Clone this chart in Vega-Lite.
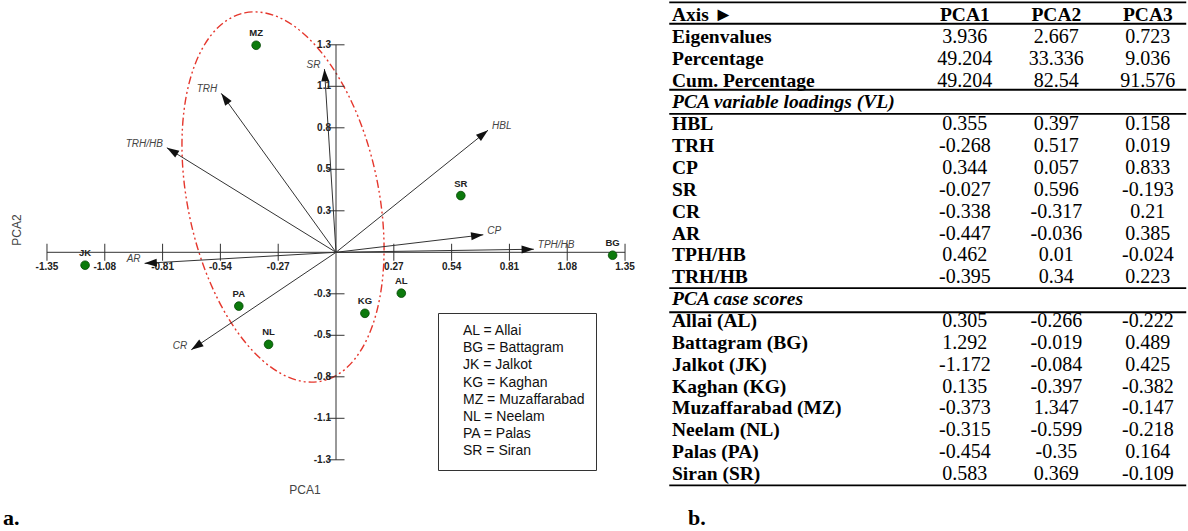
{
  "$schema": "https://vega.github.io/schema/vega-lite/v6.json",
  "padding": 0,
  "spacing": 18,
  "background": "white",
  "config": {"view": {"stroke": null}, "font": "Liberation Sans"},
  "resolve": {"scale": {"x": "independent", "y": "independent"}},
  "datasets": {
    "scores": [
      {"code": "AL", "site": "Allai", "pca1": 0.305, "pca2": -0.266},
      {"code": "BG", "site": "Battagram", "pca1": 1.292, "pca2": -0.019},
      {"code": "JK", "site": "Jalkot", "pca1": -1.172, "pca2": -0.084},
      {"code": "KG", "site": "Kaghan", "pca1": 0.135, "pca2": -0.397},
      {"code": "MZ", "site": "Muzaffarabad", "pca1": -0.373, "pca2": 1.347},
      {"code": "NL", "site": "Neelam", "pca1": -0.315, "pca2": -0.599},
      {"code": "PA", "site": "Palas", "pca1": -0.454, "pca2": -0.35},
      {"code": "SR", "site": "Siran", "pca1": 0.583, "pca2": 0.369}
    ],
    "vectors": [
      {"var": "HBL", "vx": 0.71, "vy": 0.794},
      {"var": "TRH", "vx": -0.536, "vy": 1.034},
      {"var": "CP", "vx": 0.688, "vy": 0.114},
      {"var": "SR", "vx": -0.054, "vy": 1.192},
      {"var": "CR", "vx": -0.676, "vy": -0.634},
      {"var": "AR", "vx": -0.894, "vy": -0.072},
      {"var": "TPH/HB", "vx": 0.924, "vy": 0.02},
      {"var": "TRH/HB", "vx": -0.79, "vy": 0.68}
    ],
    "xticks": [
      {"v": -1.35}, {"v": -1.08}, {"v": -0.81}, {"v": -0.54}, {"v": -0.27},
      {"v": 0.27}, {"v": 0.54}, {"v": 0.81}, {"v": 1.08}, {"v": 1.35}
    ],
    "yticks": [
      {"v": 1.35, "t": "1.3"}, {"v": 1.08, "t": "1.1"}, {"v": 0.81, "t": "0.8"}, {"v": 0.54, "t": "0.5"}, {"v": 0.27, "t": "0.3"},
      {"v": -0.27, "t": "-0.3"}, {"v": -0.54, "t": "-0.5"}, {"v": -0.81, "t": "-0.8"}, {"v": -1.08, "t": "-1.1"}, {"v": -1.35, "t": "-1.3"}
    ],
    "table": [
      {"row": 0, "kind": "head", "label": "Axis ►", "p1": "PCA1", "p2": "PCA2", "p3": "PCA3"},
      {"row": 1, "kind": "row", "label": "Eigenvalues", "p1": 3.936, "p2": 2.667, "p3": 0.723},
      {"row": 2, "kind": "row", "label": "Percentage", "p1": 49.204, "p2": 33.336, "p3": 9.036},
      {"row": 3, "kind": "row", "label": "Cum. Percentage", "p1": 49.204, "p2": 82.54, "p3": 91.576},
      {"row": 4, "kind": "section", "label": "PCA variable loadings (VL)"},
      {"row": 5, "kind": "row", "label": "HBL", "p1": 0.355, "p2": 0.397, "p3": 0.158},
      {"row": 6, "kind": "row", "label": "TRH", "p1": -0.268, "p2": 0.517, "p3": 0.019},
      {"row": 7, "kind": "row", "label": "CP", "p1": 0.344, "p2": 0.057, "p3": 0.833},
      {"row": 8, "kind": "row", "label": "SR", "p1": -0.027, "p2": 0.596, "p3": -0.193},
      {"row": 9, "kind": "row", "label": "CR", "p1": -0.338, "p2": -0.317, "p3": 0.21},
      {"row": 10, "kind": "row", "label": "AR", "p1": -0.447, "p2": -0.036, "p3": 0.385},
      {"row": 11, "kind": "row", "label": "TPH/HB", "p1": 0.462, "p2": 0.01, "p3": -0.024},
      {"row": 12, "kind": "row", "label": "TRH/HB", "p1": -0.395, "p2": 0.34, "p3": 0.223},
      {"row": 13, "kind": "section", "label": "PCA case scores"},
      {"row": 14, "kind": "row", "label": "Allai (AL)", "p1": 0.305, "p2": -0.266, "p3": -0.222},
      {"row": 15, "kind": "row", "label": "Battagram (BG)", "p1": 1.292, "p2": -0.019, "p3": 0.489},
      {"row": 16, "kind": "row", "label": "Jalkot (JK)", "p1": -1.172, "p2": -0.084, "p3": 0.425},
      {"row": 17, "kind": "row", "label": "Kaghan (KG)", "p1": 0.135, "p2": -0.397, "p3": -0.382},
      {"row": 18, "kind": "row", "label": "Muzaffarabad (MZ)", "p1": -0.373, "p2": 1.347, "p3": -0.147},
      {"row": 19, "kind": "row", "label": "Neelam (NL)", "p1": -0.315, "p2": -0.599, "p3": -0.218},
      {"row": 20, "kind": "row", "label": "Palas (PA)", "p1": -0.454, "p2": -0.35, "p3": 0.164},
      {"row": 21, "kind": "row", "label": "Siran (SR)", "p1": 0.583, "p2": 0.369, "p3": -0.109}
    ],
    "tablelines": [{"y": -0.58}, {"y": 0.4}, {"y": 3.42}, {"y": 4.52}, {"y": 12.5}, {"y": 13.6}, {"y": 21.52}]
  },
  "hconcat": [
    {
      "width": 650,
      "height": 531,
      "layer": [
        {
          "data": {"values": [{"cx": -0.2475, "cy": 0.3598}]},
          "mark": {"type": "point", "shape": "M-38.4,-184.1A95.4,188,-11.8,0,1,38.4,184.1A95.4,188,-11.8,0,1,-38.4,-184.1Z", "size": 4, "filled": false, "stroke": "#e5372d", "strokeWidth": 1.4, "strokeDash": [8, 3, 2, 3, 2, 3], "opacity": 1},
          "encoding": {
            "x": {"field": "cx", "type": "quantitative", "scale": {"domain": [-1.5694, 1.4666], "nice": false, "zero": false}, "axis": null},
            "y": {"field": "cy", "type": "quantitative", "scale": {"domain": [-1.8133, 1.6415], "nice": false, "zero": false}, "axis": null}
          }
        },
        {
          "data": {"values": [{"a": -1.35, "b": 1.35}]},
          "mark": {"type": "rule", "color": "#333333", "strokeWidth": 1},
          "encoding": {
            "x": {"field": "a", "type": "quantitative", "scale": {"domain": [-1.5694, 1.4666], "nice": false, "zero": false}, "axis": null},
            "x2": {"field": "b"},
            "y": {"datum": 0, "type": "quantitative", "scale": {"domain": [-1.8133, 1.6415], "nice": false, "zero": false}, "axis": null}
          }
        },
        {
          "data": {"values": [{"a": -1.35, "b": 1.35}]},
          "mark": {"type": "rule", "color": "#333333", "strokeWidth": 1},
          "encoding": {
            "x": {"datum": 0, "type": "quantitative", "scale": {"domain": [-1.5694, 1.4666], "nice": false, "zero": false}, "axis": null},
            "y": {"field": "a", "type": "quantitative", "scale": {"domain": [-1.8133, 1.6415], "nice": false, "zero": false}, "axis": null},
            "y2": {"field": "b"}
          }
        },
        {
          "data": {"name": "xticks"},
          "mark": {"type": "tick", "orient": "vertical", "size": 17, "thickness": 1, "color": "#333333", "opacity": 1},
          "encoding": {
            "x": {"field": "v", "type": "quantitative", "scale": {"domain": [-1.5694, 1.4666], "nice": false, "zero": false}, "axis": null},
            "y": {"datum": 0, "type": "quantitative", "scale": {"domain": [-1.8133, 1.6415], "nice": false, "zero": false}, "axis": null}
          }
        },
        {
          "data": {"name": "yticks"},
          "mark": {"type": "tick", "orient": "horizontal", "size": 17, "thickness": 1, "color": "#333333", "opacity": 1},
          "encoding": {
            "x": {"datum": 0, "type": "quantitative", "scale": {"domain": [-1.5694, 1.4666], "nice": false, "zero": false}, "axis": null},
            "y": {"field": "v", "type": "quantitative", "scale": {"domain": [-1.8133, 1.6415], "nice": false, "zero": false}, "axis": null}
          }
        },
        {
          "data": {"name": "xticks"},
          "mark": {"type": "text", "font": "Liberation Sans", "fontSize": 10, "fontWeight": "bold", "color": "#222222", "dy": 15, "baseline": "middle", "align": "center"},
          "encoding": {
            "x": {"field": "v", "type": "quantitative", "scale": {"domain": [-1.5694, 1.4666], "nice": false, "zero": false}, "axis": null},
            "y": {"datum": 0, "type": "quantitative", "scale": {"domain": [-1.8133, 1.6415], "nice": false, "zero": false}, "axis": null},
            "text": {"field": "v", "type": "nominal"}
          }
        },
        {
          "data": {"name": "yticks"},
          "mark": {"type": "text", "font": "Liberation Sans", "fontSize": 10, "fontWeight": "bold", "color": "#222222", "dx": -5, "baseline": "middle", "align": "right"},
          "encoding": {
            "x": {"datum": 0, "type": "quantitative", "scale": {"domain": [-1.5694, 1.4666], "nice": false, "zero": false}, "axis": null},
            "y": {"field": "v", "type": "quantitative", "scale": {"domain": [-1.8133, 1.6415], "nice": false, "zero": false}, "axis": null},
            "text": {"field": "t", "type": "nominal"}
          }
        },
        {
          "data": {"name": "vectors"},
          "transform": [{"calculate": "0", "as": "o"}],
          "mark": {"type": "rule", "color": "#333333", "strokeWidth": 1},
          "encoding": {
            "x": {"field": "vx", "type": "quantitative", "scale": {"domain": [-1.5694, 1.4666], "nice": false, "zero": false}, "axis": null},
            "y": {"field": "vy", "type": "quantitative", "scale": {"domain": [-1.8133, 1.6415], "nice": false, "zero": false}, "axis": null},
            "x2": {"field": "o"},
            "y2": {"field": "o"}
          }
        },
        {
          "data": {"name": "vectors"},
          "transform": [{"calculate": "atan2(datum.vx * 214.1, datum.vy * 153.7) * 180 / PI", "as": "ang"}],
          "mark": {"type": "point", "shape": "M0,0L0.65,2L-0.65,2Z", "size": 150, "filled": true, "color": "#111111", "opacity": 1, "strokeWidth": 0},
          "encoding": {
            "x": {"field": "vx", "type": "quantitative", "scale": {"domain": [-1.5694, 1.4666], "nice": false, "zero": false}, "axis": null},
            "y": {"field": "vy", "type": "quantitative", "scale": {"domain": [-1.8133, 1.6415], "nice": false, "zero": false}, "axis": null},
            "angle": {"field": "ang", "type": "quantitative", "scale": null}
          }
        },
        {
          "data": {"name": "vectors"},
          "transform": [{"filter": "datum.vx < 0"}],
          "mark": {"type": "text", "font": "Liberation Sans", "fontSize": 10, "fontStyle": "italic", "color": "#444444", "align": "right", "baseline": "middle", "dx": -4, "dy": -4},
          "encoding": {
            "x": {"field": "vx", "type": "quantitative", "scale": {"domain": [-1.5694, 1.4666], "nice": false, "zero": false}, "axis": null},
            "y": {"field": "vy", "type": "quantitative", "scale": {"domain": [-1.8133, 1.6415], "nice": false, "zero": false}, "axis": null},
            "text": {"field": "var", "type": "nominal"}
          }
        },
        {
          "data": {"name": "vectors"},
          "transform": [{"filter": "datum.vx > 0"}],
          "mark": {"type": "text", "font": "Liberation Sans", "fontSize": 10, "fontStyle": "italic", "color": "#444444", "align": "left", "baseline": "middle", "dx": 4, "dy": -4},
          "encoding": {
            "x": {"field": "vx", "type": "quantitative", "scale": {"domain": [-1.5694, 1.4666], "nice": false, "zero": false}, "axis": null},
            "y": {"field": "vy", "type": "quantitative", "scale": {"domain": [-1.8133, 1.6415], "nice": false, "zero": false}, "axis": null},
            "text": {"field": "var", "type": "nominal"}
          }
        },
        {
          "data": {"name": "scores"},
          "transform": [{"calculate": "datum.code + ' = ' + datum.site", "as": "key"}],
          "mark": {"type": "point", "filled": true, "size": 75, "stroke": "#064806", "strokeWidth": 0.8, "opacity": 1},
          "encoding": {
            "x": {"field": "pca1", "type": "quantitative", "scale": {"domain": [-1.5694, 1.4666], "nice": false, "zero": false}, "axis": null},
            "y": {"field": "pca2", "type": "quantitative", "scale": {"domain": [-1.8133, 1.6415], "nice": false, "zero": false}, "axis": null},
            "color": {
              "field": "key", "type": "nominal",
              "scale": {"range": ["#0c7a0c", "#0c7a0c", "#0c7a0c", "#0c7a0c", "#0c7a0c", "#0c7a0c", "#0c7a0c", "#0c7a0c"]},
              "legend": {
                "orient": "none", "legendX": 438, "legendY": 313, "title": null,
                "strokeColor": "#333333", "fillColor": "#ffffff", "padding": 11, "cornerRadius": 0,
                "symbolOpacity": 0, "symbolSize": 1, "symbolStrokeWidth": 0,
                "labelFont": "Liberation Sans", "labelFontSize": 14, "labelColor": "#111111",
                "labelOffset": 0, "rowPadding": 3.2, "labelLimit": 300
              }
            }
          }
        },
        {
          "data": {"name": "scores"},
          "mark": {"type": "text", "font": "Liberation Sans", "fontSize": 9.5, "fontWeight": "bold", "color": "#222222", "align": "center", "baseline": "middle", "dy": -12},
          "encoding": {
            "x": {"field": "pca1", "type": "quantitative", "scale": {"domain": [-1.5694, 1.4666], "nice": false, "zero": false}, "axis": null},
            "y": {"field": "pca2", "type": "quantitative", "scale": {"domain": [-1.8133, 1.6415], "nice": false, "zero": false}, "axis": null},
            "text": {"field": "code", "type": "nominal"}
          }
        },
        {
          "data": {"values": [{"t": "PCA1"}]},
          "mark": {"type": "text", "font": "Liberation Sans", "fontSize": 12, "color": "#444444", "align": "center", "baseline": "middle"},
          "encoding": {
            "x": {"datum": -0.1448, "type": "quantitative", "scale": {"domain": [-1.5694, 1.4666], "nice": false, "zero": false}, "axis": null},
            "y": {"datum": -1.5465, "type": "quantitative", "scale": {"domain": [-1.8133, 1.6415], "nice": false, "zero": false}, "axis": null},
            "text": {"field": "t", "type": "nominal"}
          }
        },
        {
          "data": {"values": [{"t": "PCA2"}]},
          "mark": {"type": "text", "font": "Liberation Sans", "fontSize": 12, "color": "#444444", "align": "center", "baseline": "middle", "angle": 270},
          "encoding": {
            "x": {"datum": -1.49, "type": "quantitative", "scale": {"domain": [-1.5694, 1.4666], "nice": false, "zero": false}, "axis": null},
            "y": {"datum": 0.145, "type": "quantitative", "scale": {"domain": [-1.8133, 1.6415], "nice": false, "zero": false}, "axis": null},
            "text": {"field": "t", "type": "nominal"}
          }
        },
        {
          "data": {"values": [{"t": "a."}]},
          "mark": {"type": "text", "font": "Liberation Serif", "fontSize": 22, "fontWeight": "bold", "color": "#000000", "align": "left", "baseline": "alphabetic"},
          "encoding": {
            "x": {"datum": -1.5554, "type": "quantitative", "scale": {"domain": [-1.5694, 1.4666], "nice": false, "zero": false}, "axis": null},
            "y": {"datum": -1.7742, "type": "quantitative", "scale": {"domain": [-1.8133, 1.6415], "nice": false, "zero": false}, "axis": null},
            "text": {"field": "t", "type": "nominal"}
          }
        }
      ]
    },
    {
      "width": 520,
      "height": 531,
      "layer": [
        {
          "data": {"name": "tablelines"},
          "transform": [{"calculate": "-0.03", "as": "x1"}, {"calculate": "5.62", "as": "x2"}],
          "mark": {"type": "rule", "color": "#000000", "strokeWidth": 1.8},
          "encoding": {
            "x": {"field": "x1", "type": "quantitative", "scale": {"domain": [-0.0437, 5.6393], "nice": false, "zero": false}, "axis": null},
            "x2": {"field": "x2"},
            "y": {"field": "y", "type": "quantitative", "scale": {"domain": [-0.6863, 23.608], "nice": false, "zero": false, "reverse": true}, "axis": null}
          }
        },
        {
          "data": {"name": "table"},
          "transform": [{"filter": "datum.kind != 'section'"}],
          "mark": {"type": "text", "font": "Liberation Serif", "fontSize": 19.5, "fontWeight": "bold", "color": "#000000", "align": "left", "baseline": "middle"},
          "encoding": {
            "x": {"datum": 0, "type": "quantitative", "scale": {"domain": [-0.0437, 5.6393], "nice": false, "zero": false}, "axis": null},
            "y": {"field": "row", "type": "quantitative", "scale": {"domain": [-0.6863, 23.608], "nice": false, "zero": false, "reverse": true}, "axis": null},
            "text": {"field": "label", "type": "nominal"}
          }
        },
        {
          "data": {"name": "table"},
          "transform": [{"filter": "datum.kind == 'section'"}],
          "mark": {"type": "text", "font": "Liberation Serif", "fontSize": 19.5, "fontWeight": "bold", "fontStyle": "italic", "color": "#000000", "align": "left", "baseline": "middle"},
          "encoding": {
            "x": {"datum": 0, "type": "quantitative", "scale": {"domain": [-0.0437, 5.6393], "nice": false, "zero": false}, "axis": null},
            "y": {"field": "row", "type": "quantitative", "scale": {"domain": [-0.6863, 23.608], "nice": false, "zero": false, "reverse": true}, "axis": null},
            "text": {"field": "label", "type": "nominal"}
          }
        },
        {
          "data": {"name": "table"},
          "transform": [{"filter": "datum.kind == 'row'"}],
          "mark": {"type": "text", "font": "Liberation Serif", "fontSize": 20, "color": "#000000", "align": "center", "baseline": "middle"},
          "encoding": {
            "x": {"datum": 3.2, "type": "quantitative", "scale": {"domain": [-0.0437, 5.6393], "nice": false, "zero": false}, "axis": null},
            "y": {"field": "row", "type": "quantitative", "scale": {"domain": [-0.6863, 23.608], "nice": false, "zero": false, "reverse": true}, "axis": null},
            "text": {"field": "p1", "type": "nominal"}
          }
        },
        {
          "data": {"name": "table"},
          "transform": [{"filter": "datum.kind == 'row'"}],
          "mark": {"type": "text", "font": "Liberation Serif", "fontSize": 20, "color": "#000000", "align": "center", "baseline": "middle"},
          "encoding": {
            "x": {"datum": 4.2, "type": "quantitative", "scale": {"domain": [-0.0437, 5.6393], "nice": false, "zero": false}, "axis": null},
            "y": {"field": "row", "type": "quantitative", "scale": {"domain": [-0.6863, 23.608], "nice": false, "zero": false, "reverse": true}, "axis": null},
            "text": {"field": "p2", "type": "nominal"}
          }
        },
        {
          "data": {"name": "table"},
          "transform": [{"filter": "datum.kind == 'row'"}],
          "mark": {"type": "text", "font": "Liberation Serif", "fontSize": 20, "color": "#000000", "align": "center", "baseline": "middle"},
          "encoding": {
            "x": {"datum": 5.2, "type": "quantitative", "scale": {"domain": [-0.0437, 5.6393], "nice": false, "zero": false}, "axis": null},
            "y": {"field": "row", "type": "quantitative", "scale": {"domain": [-0.6863, 23.608], "nice": false, "zero": false, "reverse": true}, "axis": null},
            "text": {"field": "p3", "type": "nominal"}
          }
        },
        {
          "data": {"name": "table"},
          "transform": [{"filter": "datum.kind == 'head'"}],
          "mark": {"type": "text", "font": "Liberation Serif", "fontSize": 19.5, "fontWeight": "bold", "color": "#000000", "align": "center", "baseline": "middle"},
          "encoding": {
            "x": {"datum": 3.2, "type": "quantitative", "scale": {"domain": [-0.0437, 5.6393], "nice": false, "zero": false}, "axis": null},
            "y": {"field": "row", "type": "quantitative", "scale": {"domain": [-0.6863, 23.608], "nice": false, "zero": false, "reverse": true}, "axis": null},
            "text": {"field": "p1", "type": "nominal"}
          }
        },
        {
          "data": {"name": "table"},
          "transform": [{"filter": "datum.kind == 'head'"}],
          "mark": {"type": "text", "font": "Liberation Serif", "fontSize": 19.5, "fontWeight": "bold", "color": "#000000", "align": "center", "baseline": "middle"},
          "encoding": {
            "x": {"datum": 4.2, "type": "quantitative", "scale": {"domain": [-0.0437, 5.6393], "nice": false, "zero": false}, "axis": null},
            "y": {"field": "row", "type": "quantitative", "scale": {"domain": [-0.6863, 23.608], "nice": false, "zero": false, "reverse": true}, "axis": null},
            "text": {"field": "p2", "type": "nominal"}
          }
        },
        {
          "data": {"name": "table"},
          "transform": [{"filter": "datum.kind == 'head'"}],
          "mark": {"type": "text", "font": "Liberation Serif", "fontSize": 19.5, "fontWeight": "bold", "color": "#000000", "align": "center", "baseline": "middle"},
          "encoding": {
            "x": {"datum": 5.2, "type": "quantitative", "scale": {"domain": [-0.0437, 5.6393], "nice": false, "zero": false}, "axis": null},
            "y": {"field": "row", "type": "quantitative", "scale": {"domain": [-0.6863, 23.608], "nice": false, "zero": false, "reverse": true}, "axis": null},
            "text": {"field": "p3", "type": "nominal"}
          }
        },
        {
          "data": {"values": [{"t": "b."}]},
          "mark": {"type": "text", "font": "Liberation Serif", "fontSize": 22, "fontWeight": "bold", "color": "#000000", "align": "left", "baseline": "alphabetic"},
          "encoding": {
            "x": {"datum": 0.175, "type": "quantitative", "scale": {"domain": [-0.0437, 5.6393], "nice": false, "zero": false}, "axis": null},
            "y": {"datum": 23.33, "type": "quantitative", "scale": {"domain": [-0.6863, 23.608], "nice": false, "zero": false, "reverse": true}, "axis": null},
            "text": {"field": "t", "type": "nominal"}
          }
        }
      ]
    }
  ]
}
